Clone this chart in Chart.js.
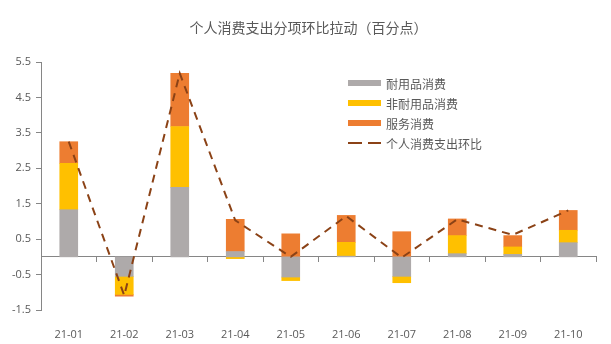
<!DOCTYPE html>
<html>
<head>
<meta charset="utf-8">
<script src="https://cdn.jsdelivr.net/npm/chart.js@4.4.0/dist/chart.umd.min.js"></script>
<style>
  html, body { margin: 0; padding: 0; background: #fff; }
  #wrap { position: relative; width: 611px; height: 344px; }
  #title { position: absolute; left: 0; width: 611px; top: 17px; text-align: center; padding-left: 6px; box-sizing: border-box;
    font: 14px "Noto Sans CJK SC", "Open Sans", sans-serif; color: #595959; line-height: 20px; }
  #legend { position: absolute; left: 348px; top: 73px; font: 12px "Noto Sans CJK SC", sans-serif; color: #595959; }
  .item { height: 20px; display: flex; align-items: center; }
  .sw { width: 33px; height: 6px; margin-right: 5px; }
  .dash { width: 33px; height: 2px; margin-right: 5px;
    background: linear-gradient(to right, #8B4216 0 14px, transparent 14px 20px, #8B4216 20px 33px); }
</style>
</head>
<body>
<div id="wrap">
  <canvas id="c"></canvas>
  <div id="title">个人消费支出分项环比拉动（百分点）</div>
  <div id="legend"></div>
</div>
<script>
const categories = ['21-01','21-02','21-03','21-04','21-05','21-06','21-07','21-08','21-09','21-10'];
const durable    = [1.33, -0.55, 1.96, 0.15, -0.57, 0.02, -0.55, 0.09, 0.07, 0.40];
const nondurable = [1.31, -0.51, 1.72, -0.05, -0.10, 0.39, -0.18, 0.51, 0.21, 0.35];
const services   = [0.61, -0.05, 1.50, 0.91, 0.65, 0.76, 0.71, 0.47, 0.32, 0.56];
const total      = [3.25, -1.09, 5.18, 1.03, 0.00, 1.15, -0.02, 1.06, 0.62, 1.31];
const yTicks     = [-1.5, -0.5, 0.5, 1.5, 2.5, 3.5, 4.5, 5.5];
const seriesNames = ['耐用品消费', '非耐用品消费', '服务消费', '个人消费支出环比'];

const COLORS = ['#AEAAAA', '#FFC000', '#ED7D31', '#8B4216'];
const textColor = '#595959';
const axisColor = '#868686';
const font = { family: '"Open Sans", "Noto Sans CJK SC", sans-serif', size: 11 };

// HTML legend
const lg = document.getElementById('legend');
seriesNames.forEach((n, i) => {
  const d = document.createElement('div'); d.className = 'item';
  const s = document.createElement('div');
  if (i < 3) { s.className = 'sw'; s.style.background = COLORS[i]; } else { s.className = 'dash'; }
  d.appendChild(s);
  const t = document.createElement('span'); t.textContent = n; d.appendChild(t);
  lg.appendChild(d);
});

const barBase = { type: 'bar', stack: 'a', barThickness: 18, borderWidth: 0, order: 2, xAxisID: 'x' };

new Chart(document.getElementById('c'), {
  type: 'bar',
  data: {
    labels: categories,
    datasets: [
      Object.assign({ label: seriesNames[0], data: durable, backgroundColor: COLORS[0] }, barBase),
      Object.assign({ label: seriesNames[1], data: nondurable, backgroundColor: COLORS[1] }, barBase),
      Object.assign({ label: seriesNames[2], data: services, backgroundColor: COLORS[2] }, barBase),
      { type: 'line', label: seriesNames[3], data: total, stack: 'b', borderColor: COLORS[3], borderWidth: 2,
        borderDash: [8, 6], pointRadius: 0, tension: 0, fill: false, order: 0, xAxisID: 'x' }
    ]
  },
  options: {
    responsive: true,
    maintainAspectRatio: false,
    animation: false,
    layout: { padding: { top: 62, right: 15, left: 0, bottom: 0 } },
    plugins: { legend: { display: false }, tooltip: { enabled: false }, title: { display: false } },
    scales: {
      x: {
        type: 'category',
        stacked: true,
        offset: true,
        position: { y: 0 },
        grid: { offset: true, drawOnChartArea: false, drawTicks: true, tickLength: 5, color: axisColor },
        border: { display: true, color: axisColor, width: 1 },
        ticks: { display: false },
        afterFit: (s) => { s.height = 0; }
      },
      x2: {
        type: 'category',
        position: 'bottom',
        offset: true,
        grid: { display: false },
        border: { display: false },
        ticks: { color: textColor, font: font, padding: 10, maxRotation: 0, autoSkip: false },
        afterFit: (s) => { s.height = 34; }
      },
      y: {
        stacked: true,
        min: -1.5,
        max: 5.5,
        afterBuildTicks: (s) => { s.ticks = yTicks.map(v => ({ value: v })); },
        grid: { drawOnChartArea: false, drawTicks: true, tickLength: 5, color: axisColor },
        border: { display: true, color: axisColor, width: 1 },
        ticks: { color: textColor, font: font, padding: 5, callback: (v) => v.toFixed(1) },
        afterFit: (s) => { s.width = 41; }
      }
    }
  }
});
</script>
</body>
</html>
